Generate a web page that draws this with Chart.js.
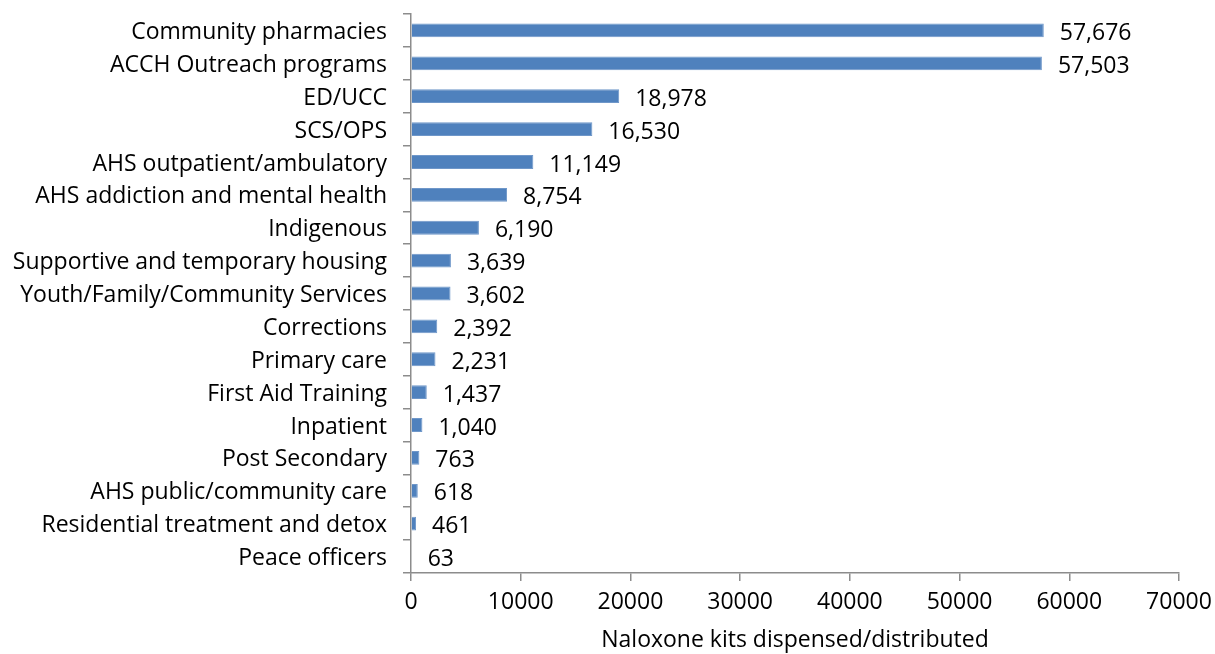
<!DOCTYPE html>
<html>
<head>
<meta charset="utf-8">
<script src="https://cdn.jsdelivr.net/npm/chart.js@4"></script>
<style>
  html, body { margin: 0; padding: 0; background: #fff; }
  #wrap { width: 1215px; height: 654px; }
</style>
</head>
<body>
<div id="wrap"><canvas id="chart"></canvas></div>
<script>
const categories = [
  'Community pharmacies', 'ACCH Outreach programs', 'ED/UCC', 'SCS/OPS',
  'AHS outpatient/ambulatory', 'AHS addiction and mental health', 'Indigenous',
  'Supportive and temporary housing', 'Youth/Family/Community Services',
  'Corrections', 'Primary care', 'First Aid Training', 'Inpatient',
  'Post Secondary', 'AHS public/community care', 'Residential treatment and detox',
  'Peace officers'
];
const kits = [57676, 57503, 18978, 16530, 11149, 8754, 6190, 3639, 3602, 2392, 2231, 1437, 1040, 763, 618, 461, 63];
const xTicks = [0, 10000, 20000, 30000, 40000, 50000, 60000, 70000];

const FONT = 'Open Sans';
const SIZE = 23;
const axisGray = '#8c8c8c';

// draws the value next to each bar end
const valueLabels = {
  id: 'valueLabels',
  afterDatasetsDraw(chart) {
    const ctx = chart.ctx;
    const meta = chart.getDatasetMeta(0);
    ctx.save();
    ctx.font = `${SIZE}px "${FONT}"`;
    ctx.fillStyle = '#000';
    ctx.textBaseline = 'middle';
    ctx.textAlign = 'left';
    meta.data.forEach((bar, i) => {
      ctx.fillText(kits[i].toLocaleString('en-US'), bar.x + 16, bar.y + 3);
    });
    ctx.restore();
  }
};

new Chart(document.getElementById('chart'), {
  type: 'bar',
  data: {
    labels: categories,
    datasets: [{
      data: kits,
      backgroundColor: '#4f81bd',
      borderColor: '#6f97c9',
      borderWidth: 1,
      categoryPercentage: 1,
      barPercentage: 0.42,
    }],
  },
  options: {
    indexAxis: 'y',
    responsive: true, maintainAspectRatio: false,
    animation: false,
    layout: { padding: { top: 14, right: 36, left: 0, bottom: 0 } },
    plugins: { legend: { display: false }, tooltip: { enabled: false } },
    scales: {
      x: {
        min: 0, max: 70000,
        afterBuildTicks: (s) => { s.ticks = xTicks.map((v) => ({ value: v })); },
        afterFit: (s) => { s.height = 81; s.paddingLeft = 0; s.paddingRight = 0; },
        ticks: { color: '#000', font: { family: FONT, size: SIZE }, padding: 8, callback: (v) => String(v), maxRotation: 0 },
        grid: { drawOnChartArea: false, color: axisGray, tickLength: 8, lineWidth: 1.5 },
        border: { color: axisGray, width: 1.5 },
        title: { display: true, text: 'Naloxone kits dispensed/distributed', color: '#000', font: { family: FONT, size: SIZE }, padding: { top: 4, bottom: 0 } },
      },
      y: {
        afterFit: (s) => { s.width = 411; s.paddingTop = 0; s.paddingBottom = 0; },
        ticks: { color: '#000', font: { family: FONT, size: SIZE }, padding: 16, labelOffset: 2, autoSkip: false },
        grid: { drawOnChartArea: false, color: axisGray, tickLength: 8, lineWidth: 1.5, offset: true },
        border: { color: axisGray, width: 1.5 },
      },
    },
  },
  plugins: [valueLabels],
});
</script>
</body>
</html>
